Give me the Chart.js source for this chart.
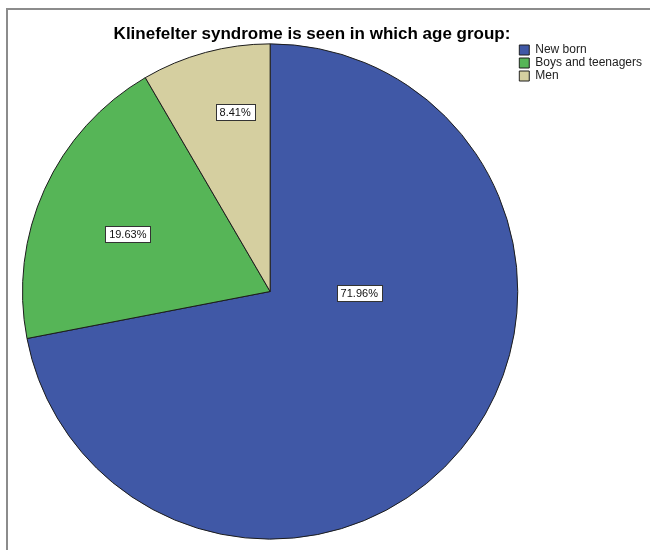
<!DOCTYPE html>
<html>
<head>
<meta charset="utf-8">
<script src="https://cdn.jsdelivr.net/npm/chart.js@4/dist/chart.umd.min.js"></script>
<style>
  html, body { margin: 0; padding: 0; background: #fff; }
  #wrap { position: relative; width: 650px; height: 550px; overflow: hidden; }
  #frame {
    position: absolute; left: 6px; top: 8px; width: 660px; height: 560px;
    border-top: 2px solid #8c8c8c; border-left: 2px solid #8c8c8c;
  }
  #ageChart { position: absolute; left: 0; top: 0; }
</style>
</head>
<body>
<div id="wrap">
  <div id="frame"></div>
  <canvas id="ageChart" width="650" height="550"></canvas>
</div>
<script>
const chartTitle = "Klinefelter syndrome is seen in which age group:";
const labels = ["New born", "Boys and teenagers", "Men"];
const percents = [71.96, 19.63, 8.41];
const colors = ["#4058a6", "#56b557", "#d5cfa0"];

// where each percent box sits: [degrees clockwise from 12 o'clock, fraction of radius]
const labelSpots = [[91, 0.36], [292, 0.62], [349, 0.74]];

const FONT = "'Liberation Sans', Arial, sans-serif";

// title is drawn by hand so it can sit a bit left of the canvas centre
const headline = {
  id: "headline",
  afterDraw(chart) {
    const ctx = chart.ctx;
    ctx.save();
    ctx.font = "bold 17px " + FONT;
    ctx.fillStyle = "#000";
    ctx.textAlign = "center";
    ctx.textBaseline = "alphabetic";
    ctx.fillText(chartTitle, 312, 39);
    ctx.restore();
  }
};

const valueBoxes = {
  id: "valueBoxes",
  afterDatasetsDraw(chart) {
    const ctx = chart.ctx;
    const arcs = chart.getDatasetMeta(0).data;
    ctx.save();
    ctx.font = "11px " + FONT;
    ctx.textAlign = "center";
    ctx.textBaseline = "middle";
    arcs.forEach((arc, i) => {
      const spot = labelSpots[i];
      const a = spot[0] * Math.PI / 180;
      const x = arc.x + Math.sin(a) * arc.outerRadius * spot[1];
      const y = arc.y - Math.cos(a) * arc.outerRadius * spot[1];
      const text = percents[i].toFixed(2) + "%";
      const w = Math.round(ctx.measureText(text).width + 8);
      const h = 16;
      const bx = Math.round(x - w / 2) + 0.5;
      const by = Math.round(y - h / 2) + 0.5;
      ctx.fillStyle = "#fff";
      ctx.fillRect(bx, by, w, h);
      ctx.strokeStyle = "#333";
      ctx.lineWidth = 1;
      ctx.strokeRect(bx, by, w, h);
      ctx.fillStyle = "#111";
      ctx.fillText(text, x, y + 1);
    });
    ctx.restore();
  }
};

const config = {
  type: "pie",
  data: {
    labels: labels,
    datasets: [{
      data: percents,
      backgroundColor: colors,
      borderColor: "#1c1c1c",
      borderWidth: 1
    }]
  },
  options: {
    responsive: false,
    animation: false,
    events: [],
    layout: { padding: { top: 43, left: 22, right: -2, bottom: 10 } },
    plugins: {
      title: { display: false },
      legend: {
        position: "right",
        align: "start",
        fullSize: false,
        labels: {
          boxWidth: 10,
          boxHeight: 10,
          padding: 1,
          color: "#222",
          font: { family: FONT, size: 12 }
        }
      },
      tooltip: { enabled: false }
    }
  },
  plugins: [valueBoxes, headline]
};

const myChart = new Chart(document.getElementById("ageChart"), config);
</script>
</body>
</html>
